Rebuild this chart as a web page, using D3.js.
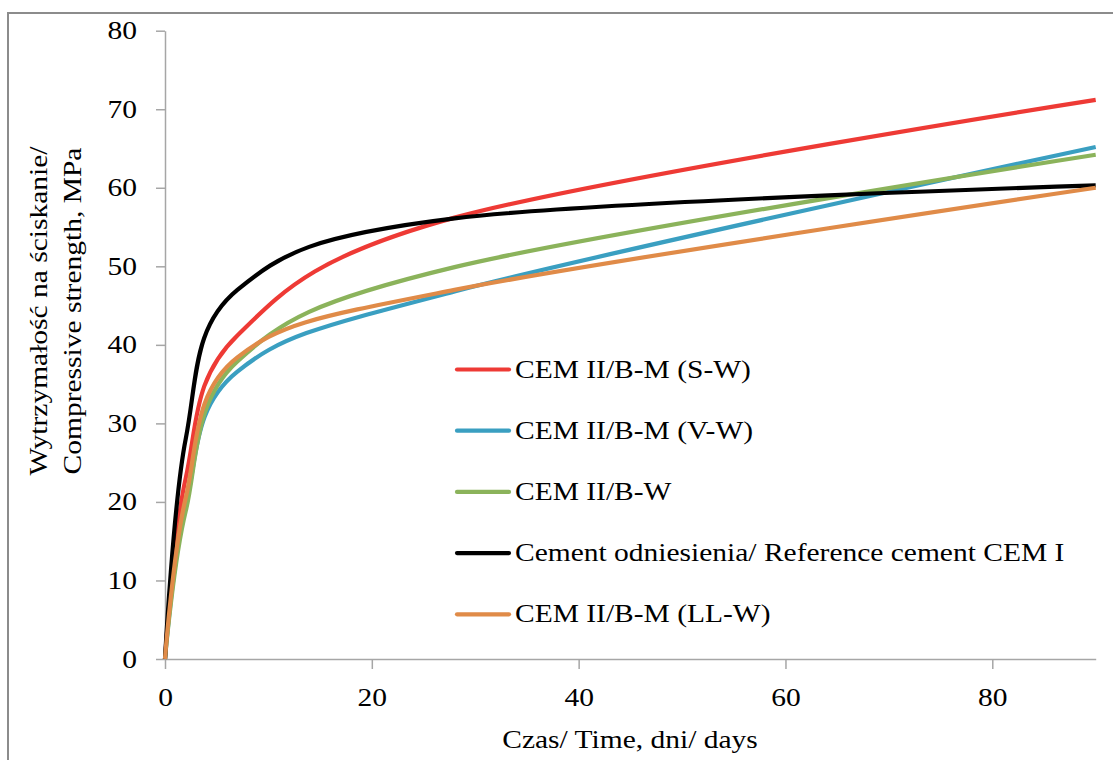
<!DOCTYPE html>
<meta charset="utf-8">
<style>
    html, body {
        margin: 0;
        padding: 0;
        background: #fff;
    }
    svg text {
        font-family: "Liberation Serif", "Times New Roman", serif;
        fill: #000;
    }
</style>
<svg id="chart" width="1113" height="760"></svg>
<script src="https://d3js.org/d3.v7.min.js"></script>
<script>
    // measured ages, days
    const days = [0, 2, 7, 28, 90];

    // compressive strength, MPa
    const swValues = [0, 23, 41.2, 56.2, 71.2];
    const vwValues = [0, 19.5, 36.6, 46.8, 65.2];
    const bwValues = [0, 18.8, 37.9, 49.9, 64.2];
    const refValues = [0, 28, 47, 56.1, 60.3];
    const llwValues = [0, 20.5, 38.4, 47, 60.0];

    const seriesNames = [
        "CEM II/B-M (S-W)",
        "CEM II/B-M (V-W)",
        "CEM II/B-W",
        "Cement odniesienia/ Reference cement CEM I",
        "CEM II/B-M (LL-W)"
    ];
    const seriesColors = ["#ee3a35", "#3a9fc1", "#8bb35b", "#000000", "#e08b48"];
    const seriesValues = [swValues, vwValues, bwValues, refValues, llwValues];

    const xTicks = [0, 20, 40, 60, 80];
    const yTicks = [0, 10, 20, 30, 40, 50, 60, 70, 80];

    const xTitle = "Czas/ Time, dni/ days";
    const yTitle = ["Wytrzymałość na ściskanie/", "Compressive strength, MPa"];

    const fontSize = 25;
    const sx = 1.18; // text in the source is drawn wide

    const svg = d3.select("#chart");

    // outer frame of the chart area
    svg.append("rect")
        .attr("x", 8).attr("y", 13)
        .attr("width", 1130).attr("height", 780)
        .attr("fill", "none")
        .attr("stroke", "#8c8c8c")
        .attr("stroke-width", 2);

    const x = d3.scaleLinear().domain([0, 90]).range([165, 1095.7]);
    const y = d3.scaleLinear().domain([0, 80]).range([659, 30.7]);

    // stretch text horizontally around its anchor point
    function stretch(sel, rot) {
        sel.each(function () {
            const t = d3.select(this);
            const tx = +t.attr("x") || 0, ty = +t.attr("y") || 0;
            t.attr("x", 0).attr("y", 0)
                .attr("transform", `translate(${tx},${ty})${rot ? " rotate(" + rot + ")" : ""} scale(${sx},1)`);
        });
    }

    const xAxis = svg.append("g")
        .attr("transform", `translate(0,${y(0)})`)
        .call(d3.axisBottom(x).tickValues(xTicks).tickSize(10).tickSizeOuter(0).tickPadding(19));

    const yAxis = svg.append("g")
        .attr("transform", `translate(${x(0)},0)`)
        .call(d3.axisLeft(y).tickValues(yTicks).tickSize(9).tickSizeOuter(0).tickPadding(19));

    [xAxis, yAxis].forEach(ax => {
        ax.select(".domain").attr("stroke", "#a6a6a6").attr("stroke-width", 1.5);
        ax.selectAll(".tick line").attr("stroke", "#a6a6a6").attr("stroke-width", 1.5);
        ax.selectAll(".tick text")
            .attr("font-size", fontSize)
            .attr("font-family", "Liberation Serif")
            .attr("fill", "#000");
        stretch(ax.selectAll(".tick text"));
    });

    // lines, smoothed like the spreadsheet did
    const line = d3.line()
        .x((d, i) => x(days[i]))
        .y(d => y(d))
        .curve(d3.curveCardinal.tension(0));

    svg.append("g").selectAll("path")
        .data(seriesValues)
        .join("path")
        .attr("d", d => line(d))
        .attr("fill", "none")
        .attr("stroke", (d, i) => seriesColors[i])
        .attr("stroke-width", 4.2)
        .attr("stroke-linejoin", "round");

    // legend
    const legend = svg.append("g");
    const rowY = d3.scaleLinear().domain([0, 1]).range([369.5, 430.7]);
    seriesNames.forEach((name, i) => {
        legend.append("line")
            .attr("x1", 457).attr("x2", 509)
            .attr("y1", rowY(i)).attr("y2", rowY(i))
            .attr("stroke", seriesColors[i])
            .attr("stroke-width", 4.2)
            .attr("stroke-linecap", "round");
        legend.append("text")
            .attr("x", 515)
            .attr("y", rowY(i) + 8)
            .attr("font-size", fontSize)
            .text(name);
    });
    stretch(legend.selectAll("text"));

    // axis titles
    svg.append("text")
        .attr("class", "xtitle")
        .attr("x", 630).attr("y", 748)
        .attr("text-anchor", "middle")
        .attr("font-size", fontSize)
        .text(xTitle);
    stretch(svg.select(".xtitle"));

    const yt = svg.append("g");
    yTitle.forEach((s, i) => {
        yt.append("text")
            .attr("x", 47 + i * 34).attr("y", 311)
            .attr("text-anchor", "middle")
            .attr("font-size", fontSize)
            .text(s);
    });
    stretch(yt.selectAll("text"), -90);
</script>
